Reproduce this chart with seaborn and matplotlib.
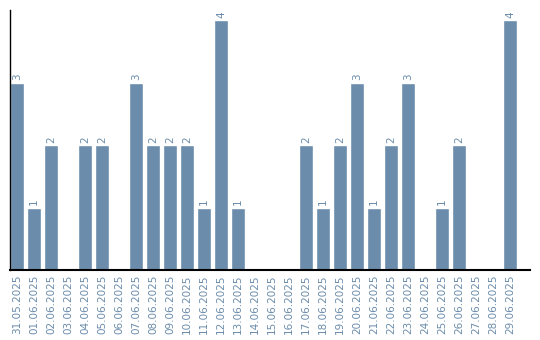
import matplotlib
matplotlib.use("Agg")
import matplotlib.pyplot as plt
import seaborn as sns
import pandas as pd

dates = ["31.05.2025", "01.06.2025", "02.06.2025", "03.06.2025", "04.06.2025", "05.06.2025",
         "06.06.2025", "07.06.2025", "08.06.2025", "09.06.2025", "10.06.2025", "11.06.2025",
         "12.06.2025", "13.06.2025", "14.06.2025", "15.06.2025", "16.06.2025", "17.06.2025",
         "18.06.2025", "19.06.2025", "20.06.2025", "21.06.2025", "22.06.2025", "23.06.2025",
         "24.06.2025", "25.06.2025", "26.06.2025", "27.06.2025", "28.06.2025", "29.06.2025"]
counts = [3, 1, 2, 0, 2, 2, 0, 3, 2, 2, 2, 1, 4, 1, 0, 0, 0, 2, 1, 2, 3, 1, 2, 3, 0, 1, 2, 0, 0, 4]

df = pd.DataFrame({"date": dates, "count": counts})

sns.set_style("white")
plt.rcParams['font.family'] = ['DejaVu Sans']

bar_color = "#6b8cab"
text_color = "#6b8cab"

fig = plt.figure(figsize=(5.4, 3.4), dpi=100)
ax = fig.add_axes([10/540, 70/340, 520/540, 260/340])
sns.barplot(data=df, x="date", y="count", color=bar_color, width=0.82, ax=ax, saturation=1)

for i, v in enumerate(counts):
    if v > 0:
        ax.text(i, v + 0.04, str(v), rotation=90, ha="center", va="bottom",
                fontsize=7.5, color=text_color)

ax.set_xlim(-0.41, 30.18)
ax.set_ylim(0, 4.16)
ax.set_xlabel("")
ax.set_ylabel("")
ax.set_yticks([])
ax.tick_params(axis="x", length=0, pad=3, labelsize=7.5, labelcolor=text_color)
plt.setp(ax.get_xticklabels(), rotation=90)
for s in ["top", "right"]:
    ax.spines[s].set_visible(False)
ax.spines["left"].set_color("black")
ax.spines["left"].set_linewidth(1)
ax.spines["bottom"].set_color("black")
ax.spines["bottom"].set_linewidth(1.5)

fig.savefig("out.png", dpi=100)
